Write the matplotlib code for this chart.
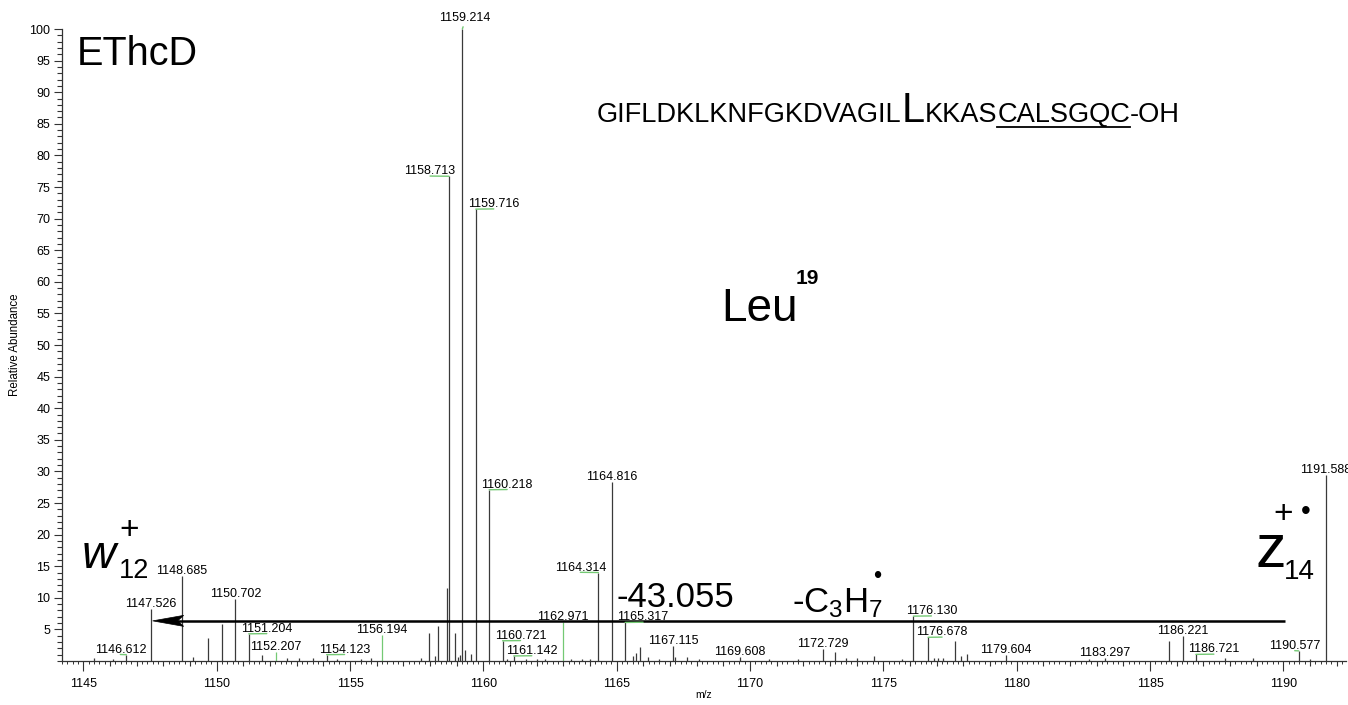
import matplotlib
matplotlib.use("Agg")
import matplotlib.pyplot as plt
from matplotlib.lines import Line2D
from matplotlib.patches import Polygon
from matplotlib.transforms import Affine2D
from matplotlib.ticker import MultipleLocator, FixedLocator

plt.rcParams['font.family'] = ['Liberation Sans', 'DejaVu Sans']
plt.rcParams['mathtext.fontset'] = 'custom'
plt.rcParams['mathtext.rm'] = 'Liberation Sans'
plt.rcParams['mathtext.it'] = 'Liberation Sans:italic'
plt.rcParams['mathtext.bf'] = 'Liberation Sans:bold'

# labelled peaks (m/z, relative abundance)
label_mz = [1146.612, 1147.526, 1148.685, 1150.702, 1151.204, 1152.207, 1154.123,
            1156.194, 1158.713, 1159.214, 1159.716, 1160.218, 1160.721, 1161.142,
            1162.971, 1164.314, 1164.816, 1165.317, 1167.115, 1169.608, 1172.729,
            1176.130, 1176.678, 1179.604, 1183.297, 1186.221, 1186.721, 1190.577,
            1191.588]
label_int = [1.0, 8.2, 13.5, 9.8, 4.3, 1.5, 1.0,
             4.1, 76.7, 100.0, 71.5, 27.1, 3.2, 0.8,
             6.1, 14.0, 28.3, 6.1, 2.4, 0.7, 1.85,
             7.1, 3.75, 0.9, 0.5, 4.0, 1.05, 1.6,
             29.4]

# unlabelled peaks
other_mz = [1145.40, 1146.10, 1149.12, 1149.66, 1150.20, 1151.70, 1152.65, 1153.10,
            1153.60, 1154.50, 1155.40, 1155.80, 1157.65, 1157.95, 1158.20, 1158.30,
            1158.62, 1158.95, 1159.05, 1159.12, 1159.30, 1159.55, 1160.90, 1161.60,
            1162.00, 1162.30, 1163.30, 1163.70, 1164.00, 1165.62, 1165.72, 1165.86,
            1166.17, 1166.60, 1167.20, 1167.65, 1168.10, 1170.70, 1171.80, 1173.20,
            1173.60, 1174.00, 1174.65, 1175.70, 1176.90, 1177.05, 1177.25, 1177.70,
            1177.90, 1178.12, 1182.70, 1185.70, 1187.80, 1188.85, 1191.00]
other_int = [0.4, 0.3, 0.6, 3.6, 5.9, 1.0, 0.4, 0.4,
             0.5, 0.3, 0.3, 0.4, 0.4, 4.4, 0.8, 5.6,
             11.5, 4.4, 0.6, 0.9, 1.7, 1.1, 0.3, 0.3,
             0.3, 0.3, 0.3, 0.3, 0.3, 0.8, 1.2, 2.2,
             0.7, 0.3, 0.6, 0.6, 0.3, 0.3, 0.3, 1.4,
             0.5, 0.4, 0.8, 0.3, 0.5, 0.4, 0.4, 3.1,
             0.8, 1.1, 0.3, 3.1, 0.4, 0.5, 0.3]

green_peaks = [1152.207, 1156.194, 1162.971]

# label shifts in pixels (x, y) relative to the peak top
label_dx = [-6, 0, 0, 0, 18, 0, 18,
            0, -19, 2, 18, 18, 18, 18,
            0, -18, 0, 18, 0, 0, 0,
            18, 14, 0, 0, 0, 18, -4,
            0]
label_dy = [2] * len(label_mz)
label_dy[label_mz.index(1159.214)] = 8

# neutral loss arrow
arrow_from_mz, arrow_to_mz, arrow_level = 1190.06, 1147.6, 6.35

W, H = 1348, 705
fig = plt.figure(figsize=(W / 100, H / 100), dpi=100)
ax = fig.add_axes([62 / W, 44 / H, (1346 - 62) / W, (661 - 29) / H])

peak_col = '#3a3a3a'
green = '#74c974'

ax.vlines(other_mz, 0, other_int, color=peak_col, lw=0.9)
for mz, h in zip(label_mz, label_int):
    ax.vlines(mz, 0, h, color=green if mz in green_peaks else peak_col, lw=0.9)

for mz, h, dx, dy in zip(label_mz, label_int, label_dx, label_dy):
    props = None
    if dx != 0:
        props = dict(arrowstyle='-', color=green, lw=1.0, shrinkA=0, shrinkB=0,
                     relpos=(0.5, 0.1))
    ax.annotate(f"{mz:.3f}", xy=(mz, h), xytext=(dx, dy), textcoords='offset pixels',
                ha='center', va='baseline', fontsize=9, color='black',
                arrowprops=props, annotation_clip=False)

ax.set_xlim(1144.2, 1192.35)
ax.set_ylim(0, 100)

# arrow: shaft plus a notched head drawn in pixel units at the tip
ax.plot([arrow_to_mz + 0.8, arrow_from_mz], [arrow_level, arrow_level],
        color='black', lw=1.8, solid_capstyle='butt')
tip_x, tip_y = ax.transData.transform((arrow_to_mz, arrow_level))
head = Polygon([(0, 0), (31, 5.5), (25, 0), (31, -5.5)], closed=True,
               facecolor='black', edgecolor='black', lw=0.5,
               transform=Affine2D().translate(tip_x, tip_y))
fig.add_artist(head)

for s in ['top', 'right']:
    ax.spines[s].set_visible(False)
for s in ['left', 'bottom']:
    ax.spines[s].set_color('#333333')
    ax.spines[s].set_linewidth(0.9)

ax.yaxis.set_major_locator(FixedLocator(range(5, 101, 5)))
ax.yaxis.set_minor_locator(MultipleLocator(1))
ax.xaxis.set_major_locator(MultipleLocator(5))
ax.xaxis.set_minor_locator(MultipleLocator(1))
ax.tick_params(axis='both', which='major', direction='out', length=6, width=0.8,
               color='#333333', labelsize=9)
ax.tick_params(axis='both', which='minor', direction='out', length=3.5, width=0.8,
               color='#333333')
ax.tick_params(axis='x', which='major', length=7, pad=5)
ax.tick_params(axis='y', which='major', pad=2.5)

sec = ax.secondary_xaxis('bottom')
sec.xaxis.set_major_locator(MultipleLocator(0.2))
sec.tick_params(length=2, width=0.7, color='#333333', labelbottom=False)
sec.spines['bottom'].set_visible(False)

ax.set_xlabel('m/z', fontsize=7.5, labelpad=0)
ax.set_ylabel('Relative Abundance', fontsize=8.3)
ax.yaxis.set_label_coords(-0.0319, 0.5)

# text annotations (figure pixel positions)
def fx(x):
    return x / W

def fy(y):
    return 1 - y / H

fig.text(fx(77), fy(65), 'EThcD', fontsize=28.5, va='baseline')
fig.text(fx(721), fy(321), 'Leu', fontsize=33, va='baseline')
fig.text(fx(796), fy(284), '19', fontsize=15, fontweight='bold', va='baseline')
fig.text(fx(616), fy(607), '-43.055', fontsize=25, va='baseline')
fig.text(fx(792), fy(612), r'-C$_3$H$_7$', fontsize=25, va='baseline')
fig.text(fx(877), fy(577), '\u2022', fontsize=17, ha='center', va='center')

fig.text(fx(82), fy(568), 'w', fontsize=34, style='italic', va='baseline')
fig.text(fx(119), fy(578), '12', fontsize=19.5, va='baseline')
fig.text(fx(129), fy(531), '+', fontsize=24, ha='center', va='center')

fig.text(fx(1255), fy(567), 'z', fontsize=44, va='baseline')
fig.text(fx(1284), fy(579), '14', fontsize=20, va='baseline')
fig.text(fx(1283), fy(514), '+', fontsize=24, ha='center', va='center')
fig.text(fx(1306), fy(512), '\u2022', fontsize=20, ha='center', va='center')

seq_parts = [('GIFLDKLKNFGKDVAGIL', 19.6, False), ('L', 30, False),
             ('KKAS', 19.6, False), ('CALSGQC', 19.6, True), ('-OH', 19.6, False)]
renderer = fig.canvas.get_renderer()
x = 597
for piece, size, underline in seq_parts:
    t = fig.text(fx(x), fy(122), piece, fontsize=size, va='baseline', ha='left')
    bb = t.get_window_extent(renderer)
    if underline:
        fig.add_artist(Line2D([bb.x0 / W, bb.x1 / W], [fy(127), fy(127)],
                              transform=fig.transFigure, color='black', lw=1.3))
    x = bb.x1

fig.savefig('out.png', dpi=100)
